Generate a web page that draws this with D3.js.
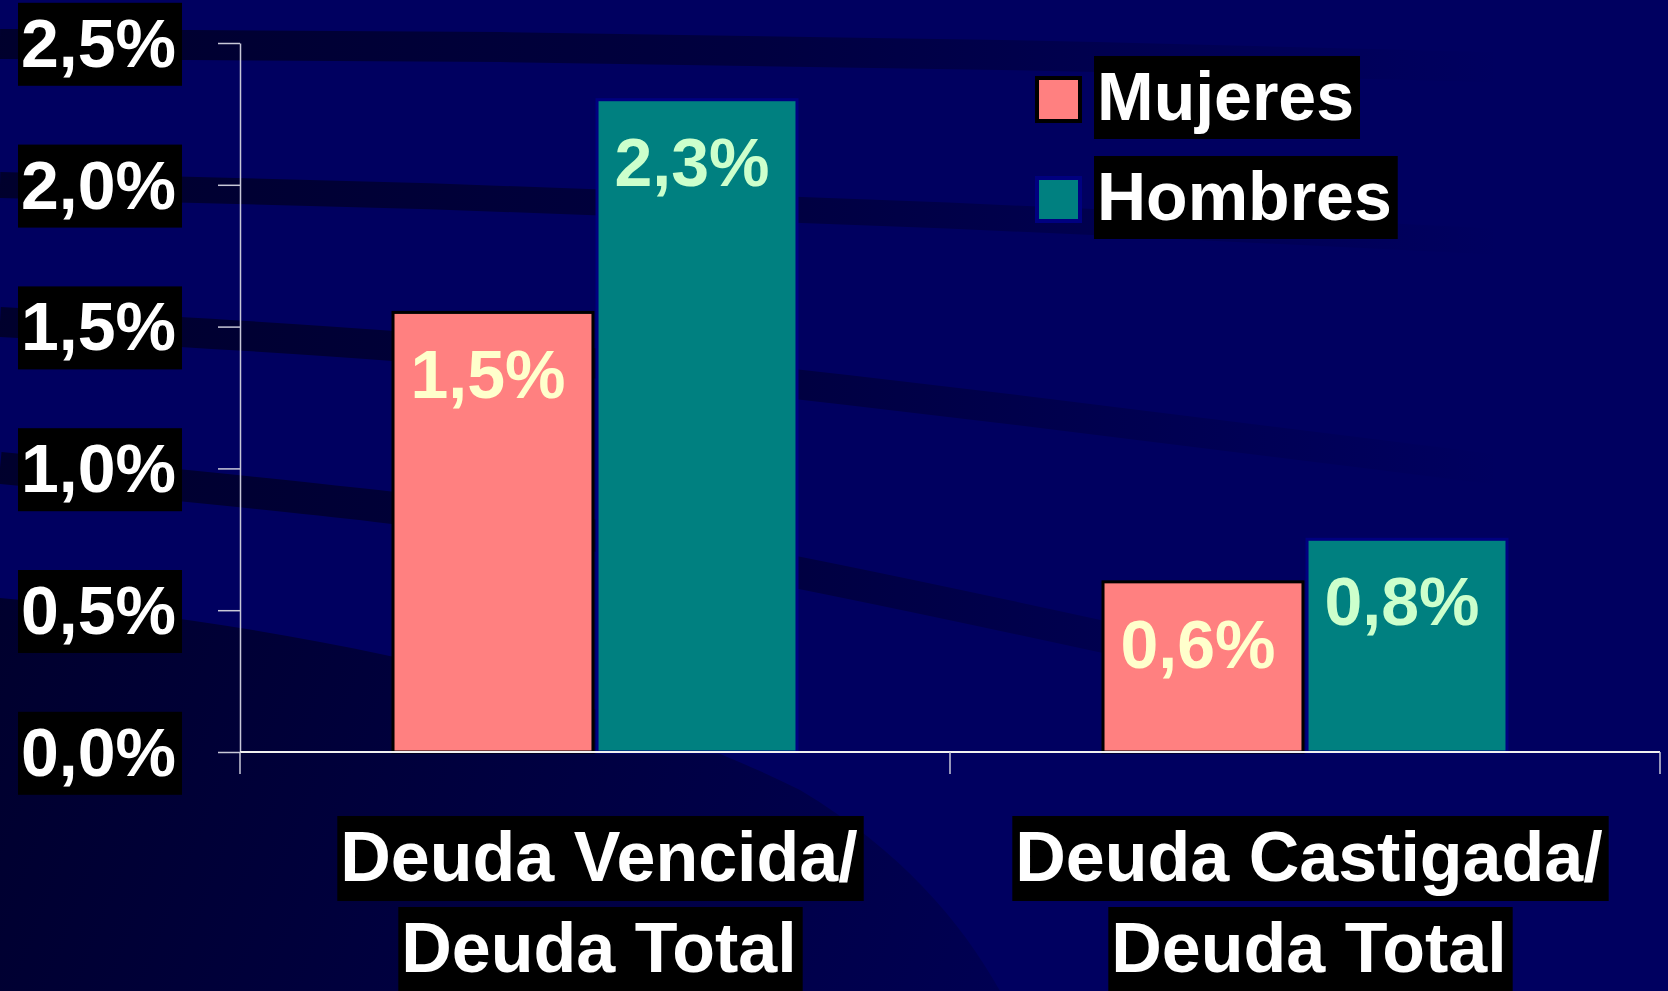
<!DOCTYPE html>
<html>
<head>
<meta charset="utf-8">
<script src="https://cdn.jsdelivr.net/npm/d3@7"></script>
<style>
  html, body { margin: 0; padding: 0; background: #000060; overflow: hidden; }
  svg { display: block; font-family: "Liberation Sans", Arial, sans-serif; font-weight: bold; }
</style>
</head>
<body>
<svg></svg>
<script>
// data
const categories = ["Deuda Vencida/|Deuda Total", "Deuda Castigada/|Deuda Total"];
const keys = ["Mujeres", "Hombres"];
const mujeres = [1.55, 0.60];
const hombres = [2.30, 0.75];
const mujeresLabels = ["1,5%", "0,6%"];
const hombresLabels = ["2,3%", "0,8%"];
const yTicks = [0, 0.5, 1, 1.5, 2, 2.5];
const yTickLabels = ["0,0%", "0,5%", "1,0%", "1,5%", "2,0%", "2,5%"];

const svgWidth = 1668;
const svgHeight = 991;
const svg = d3.select("svg")
    .attr("width", svgWidth)
    .attr("height", svgHeight);

// background with the dark swooshes of the slide template
const defs = svg.append("defs");
const fade = defs.append("linearGradient")
    .attr("id", "fade")
    .attr("gradientUnits", "userSpaceOnUse")
    .attr("x1", 0).attr("x2", 1500).attr("y1", 0).attr("y2", 0);
fade.append("stop").attr("offset", 0).attr("stop-color", "#00002a").attr("stop-opacity", 0.95);
fade.append("stop").attr("offset", 0.5).attr("stop-color", "#00002a").attr("stop-opacity", 0.6);
fade.append("stop").attr("offset", 1).attr("stop-color", "#00002a").attr("stop-opacity", 0);

const fadeDown = defs.append("linearGradient")
    .attr("id", "fadeDown")
    .attr("gradientUnits", "userSpaceOnUse")
    .attr("x1", 0).attr("x2", 1000).attr("y1", 600).attr("y2", 991);
fadeDown.append("stop").attr("offset", 0).attr("stop-color", "#000028").attr("stop-opacity", 0.9);
fadeDown.append("stop").attr("offset", 1).attr("stop-color", "#000028").attr("stop-opacity", 0.25);

svg.append("rect")
    .attr("width", svgWidth)
    .attr("height", svgHeight)
    .attr("fill", "#000060");

svg.append("path")
    .attr("d", "M0,598 C300,625 600,690 800,790 C900,850 960,920 1000,991 L0,991 Z")
    .attr("fill", "url(#fadeDown)");

const bgLine = d3.line().curve(d3.curveBasis);
const swooshes = [
    {pts: [[0, 44], [500, 46], [1000, 54], [1600, 70]], w: 30},
    {pts: [[0, 185], [420, 195], [900, 212], [1668, 250]], w: 26},
    {pts: [[0, 322], [390, 343], [800, 382], [1500, 470]], w: 30},
    {pts: [[0, 468], [390, 505], [700, 548], [1300, 680]], w: 32}
];
svg.append("g")
    .selectAll("path")
    .data(swooshes)
    .enter().append("path")
    .attr("d", d => bgLine(d.pts))
    .attr("fill", "none")
    .attr("stroke", "url(#fade)")
    .attr("stroke-width", d => d.w);

const margin = {top: 43, right: 8, bottom: 239, left: 240};
const width = svgWidth - margin.left - margin.right;
const height = svgHeight - margin.top - margin.bottom;

const g = svg.append("g")
    .attr("transform", "translate(" + margin.left + "," + margin.top + ")");

const x0 = d3.scaleBand()
    .domain(categories)
    .range([0, width])
    .padding(0);

const x1 = d3.scaleBand()
    .domain(keys)
    .range([0, x0.bandwidth()])
    .paddingInner(0.02)
    .paddingOuter(0.75);

const y = d3.scaleLinear()
    .domain([0, 2.5])
    .range([height, 0]);

const fills = {Mujeres: "#ff8080", Hombres: "#008080"};
const strokes = {Mujeres: "#000000", Hombres: "#000080"};
const labelColors = {Mujeres: "#ffffcc", Hombres: "#ccffcc"};

const rows = categories.map((c, i) => ({
    cat: c,
    bars: [
        {key: "Mujeres", value: mujeres[i], label: mujeresLabels[i]},
        {key: "Hombres", value: hombres[i], label: hombresLabels[i]}
    ]
}));

// black box behind a text, like the slide's label backgrounds
function boxed(sel) {
    sel.each(function() {
        const node = this;
        const bb = node.getBBox();
        d3.select(node.parentNode).insert("rect", () => node)
            .attr("x", bb.x - 3)
            .attr("y", bb.y - 2)
            .attr("width", bb.width + 9)
            .attr("height", bb.height + 7)
            .attr("fill", "#000");
    });
}

// bars
const groups = g.append("g")
    .selectAll("g")
    .data(rows)
    .enter().append("g")
    .attr("transform", d => "translate(" + x0(d.cat) + ",0)");

groups.selectAll("rect")
    .data(d => d.bars)
    .enter().append("rect")
    .attr("x", d => x1(d.key))
    .attr("y", d => y(d.value))
    .attr("width", x1.bandwidth())
    .attr("height", d => height - y(d.value))
    .attr("fill", d => fills[d.key])
    .attr("stroke", d => strokes[d.key])
    .attr("stroke-width", 3);

groups.selectAll("text")
    .data(d => d.bars)
    .enter().append("text")
    .attr("x", d => x1(d.key) + x1.bandwidth() / 2 - 5)
    .attr("y", d => y(d.value) + 86)
    .attr("text-anchor", "middle")
    .attr("font-size", 68)
    .attr("fill", d => labelColors[d.key])
    .text(d => d.label);

// y axis
const yAxis = g.append("g")
    .call(d3.axisLeft(y).tickValues(yTicks).tickSize(22).tickSizeOuter(0).tickFormat(""));
yAxis.select(".domain").attr("stroke", "#c8c8d8").attr("stroke-width", 1.5);
yAxis.selectAll(".tick line").attr("stroke", "#c8c8d8").attr("stroke-width", 1.5);

const yLabels = g.append("g")
    .selectAll("text")
    .data(yTicks)
    .enter().append("text")
    .attr("x", -64)
    .attr("y", d => y(d))
    .attr("dy", "0.35em")
    .attr("text-anchor", "end")
    .attr("font-size", 68)
    .attr("fill", "#fff")
    .text((d, i) => yTickLabels[i]);
boxed(yLabels);

// x axis: baseline plus ticks at category boundaries
const bounds = categories.map(c => x0(c)).concat([x0.range()[1]]);
g.append("line")
    .attr("x1", 0)
    .attr("x2", width)
    .attr("y1", y(0))
    .attr("y2", y(0))
    .attr("stroke", "#f0f0f0")
    .attr("stroke-width", 2);
g.append("g")
    .selectAll("line")
    .data(bounds)
    .enter().append("line")
    .attr("x1", d => d)
    .attr("x2", d => d)
    .attr("y1", y(0))
    .attr("y2", y(0) + 22)
    .attr("stroke", "#c8c8d8")
    .attr("stroke-width", 1.5);

// category labels, two boxed lines each
const catLabels = g.append("g")
    .selectAll("g")
    .data(categories)
    .enter().append("g")
    .selectAll("text")
    .data(c => c.split("|").map((t, i) => ({cat: c, text: t, i: i})))
    .enter().append("text")
    .attr("x", d => x0(d.cat) + x0.bandwidth() / 2 + 4)
    .attr("y", d => height + 129 + d.i * 91)
    .attr("text-anchor", "middle")
    .attr("font-size", 70)
    .attr("fill", "#fff")
    .text(d => d.text);
boxed(catLabels);

// legend (top right)
const legend = svg.append("g")
    .selectAll("g")
    .data(keys)
    .enter().append("g")
    .attr("transform", (d, i) => "translate(1035," + (76 + i * 100) + ")");

legend.append("rect")
    .attr("x", 2)
    .attr("y", 2)
    .attr("width", 43)
    .attr("height", 43)
    .attr("fill", d => fills[d])
    .attr("stroke", d => strokes[d])
    .attr("stroke-width", 4);

const legendText = legend.append("text")
    .attr("x", 62)
    .attr("y", 44)
    .attr("font-size", 68)
    .attr("fill", "#fff")
    .text(d => d);
boxed(legendText);
</script>
</body>
</html>
